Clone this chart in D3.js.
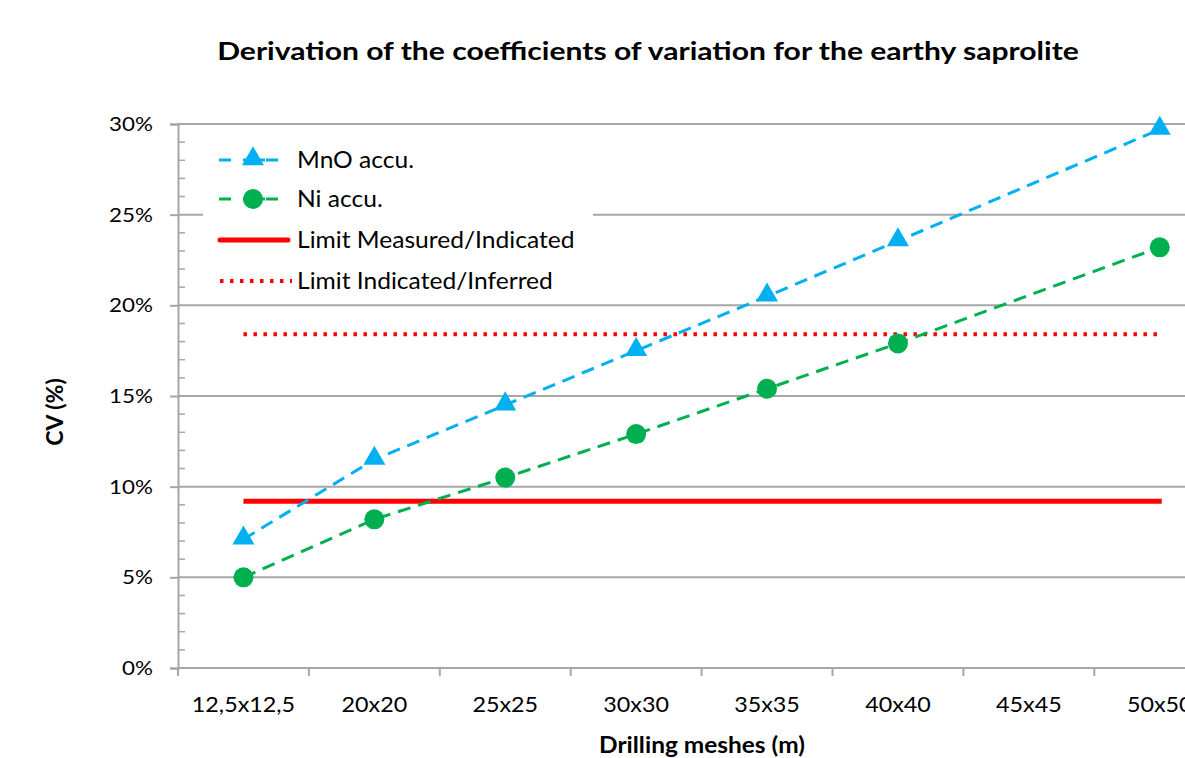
<!DOCTYPE html>
<html>
<head>
<meta charset="utf-8">
<script src="https://cdn.jsdelivr.net/npm/d3@7"></script>
<style>
  html, body { margin: 0; padding: 0; background: #fff; }
  svg { display: block; font-family: Lato, "Open Sans", sans-serif; }
</style>
</head>
<body>
<svg id="chart" width="1185" height="758"></svg>
<script>
// Drilling mesh categories and accumulated CV values (%)
const meshes = ["12,5x12,5", "20x20", "25x25", "30x30", "35x35", "40x40", "45x45", "50x50"];
const mnoCV = [7.1, 11.5, 14.5, 17.5, 20.5, 23.55, null, 29.7];
const niCV  = [5.0, 8.2, 10.5, 12.9, 15.4, 17.9, null, 23.2];
const limitMeasured = 9.2;
const limitIndicated = 18.4;
const yTicks = [0, 5, 10, 15, 20, 25, 30];

const svg = d3.select("#chart");
const plotLeft = 178, plotTop = 124, plotBottom = 668, bandW = 130.9;

const x = d3.scaleBand().domain(meshes).range([plotLeft, plotLeft + bandW * meshes.length]).paddingInner(0).paddingOuter(0);
const y = d3.scaleLinear().domain([0, 30]).range([plotBottom, plotTop]);
const cx = d => x(d) + x.bandwidth() / 2;

const gridColor = "#a6a6a6";

// Text placed at (px, py) and widened horizontally by factor k
function label(parent, px, py, txt, size, k, anchor, bold) {
  return parent.append("text")
    .attr("transform", `translate(${px},${py}) scale(${k},1)`)
    .attr("text-anchor", anchor || "start")
    .attr("font-size", size)
    .attr("font-weight", bold ? "bold" : "normal")
    .attr("fill", "#000")
    .text(txt);
}

// Horizontal gridlines
svg.append("g").selectAll("line").data(yTicks.slice(1)).join("line")
  .attr("x1", plotLeft).attr("x2", 1185)
  .attr("y1", d => y(d)).attr("y2", d => y(d))
  .attr("stroke", gridColor).attr("stroke-width", 2);

// Y axis: major ticks outside, minor ticks inside
const yAxis = svg.append("g").attr("transform", `translate(${plotLeft},0)`)
  .call(d3.axisLeft(y).tickValues(yTicks).tickSize(8).tickFormat(d => d + "%"));
yAxis.select(".domain").attr("stroke", gridColor).attr("stroke-width", 2);
yAxis.selectAll(".tick line").attr("stroke", gridColor).attr("stroke-width", 2);
yAxis.selectAll(".tick text")
  .attr("x", null)
  .attr("transform", "translate(-25,0) scale(1.12,1)")
  .attr("font-size", 20).attr("fill", "#000").attr("font-family", "Lato, sans-serif");

const minor = d3.range(0, 31, 1).filter(v => v % 5 !== 0);
svg.append("g").selectAll("line").data(minor).join("line")
  .attr("x1", plotLeft).attr("x2", plotLeft + 7)
  .attr("y1", d => y(d)).attr("y2", d => y(d))
  .attr("stroke", gridColor).attr("stroke-width", 1.5);

// X axis with ticks on band boundaries
const xg = svg.append("g");
xg.append("line").attr("x1", plotLeft).attr("x2", 1185).attr("y1", plotBottom).attr("y2", plotBottom)
  .attr("stroke", gridColor).attr("stroke-width", 2);
xg.selectAll("line.tk").data(meshes).join("line").attr("class", "tk")
  .attr("x1", d => x(d)).attr("x2", d => x(d))
  .attr("y1", plotBottom).attr("y2", plotBottom + 8)
  .attr("stroke", gridColor).attr("stroke-width", 2);
meshes.forEach(m => label(xg, cx(m), 712, m, 21, 1.11, "middle"));

// Legend background box
svg.append("rect").attr("x", 203).attr("y", 140).attr("width", 390).attr("height", 160).attr("fill", "#fff");

// Limit lines
svg.append("line")
  .attr("x1", cx(meshes[0])).attr("x2", cx(meshes[meshes.length - 1]) + 2)
  .attr("y1", y(limitMeasured)).attr("y2", y(limitMeasured))
  .attr("stroke", "#ff0000").attr("stroke-width", 5);
svg.append("line")
  .attr("x1", cx(meshes[0])).attr("x2", cx(meshes[meshes.length - 1]))
  .attr("y1", y(limitIndicated)).attr("y2", y(limitIndicated))
  .attr("stroke", "#ff0000").attr("stroke-width", 4)
  .attr("stroke-dasharray", "3.5 6.5");

// Series lines (gaps bridged over missing values)
const line = d3.line().x(d => cx(d.k)).y(d => y(d.v));
function series(vals, color) {
  const pts = meshes.map((k, i) => ({ k, v: vals[i] })).filter(d => d.v != null);
  svg.append("path").datum(pts).attr("d", line)
    .attr("fill", "none").attr("stroke", color).attr("stroke-width", 3)
    .attr("stroke-dasharray", "13 8");
  return pts;
}
const blue = "#00b0f0", green = "#00b050";
const mnoPts = series(mnoCV, blue);
const niPts = series(niCV, green);

const tri = d3.symbol().type(d3.symbolTriangle).size(210);
svg.append("g").selectAll("path").data(mnoPts).join("path")
  .attr("d", tri).attr("fill", blue)
  .attr("transform", d => `translate(${cx(d.k)},${y(d.v) - 1})`);
svg.append("g").selectAll("circle").data(niPts).join("circle")
  .attr("cx", d => cx(d.k)).attr("cy", d => y(d.v)).attr("r", 10).attr("fill", green);

// Legend entries
const lg = svg.append("g");
const rows = [
  { label: "MnO accu.", y: 160 },
  { label: "Ni accu.", y: 199 },
  { label: "Limit Measured/Indicated", y: 240 },
  { label: "Limit Indicated/Inferred", y: 281 }
];
[[blue, 0], [green, 1]].forEach(([c, i]) => {
  [[219, 231], [243, 265], [266, 278]].forEach(([a, b]) => {
    lg.append("line").attr("x1", a).attr("x2", b).attr("y1", rows[i].y).attr("y2", rows[i].y)
      .attr("stroke", c).attr("stroke-width", 3);
  });
});
lg.append("path").attr("d", tri).attr("fill", blue).attr("transform", `translate(253,${rows[0].y - 1})`);
lg.append("circle").attr("cx", 253).attr("cy", rows[1].y).attr("r", 10).attr("fill", green);
lg.append("line").attr("x1", 220).attr("x2", 288).attr("y1", rows[2].y).attr("y2", rows[2].y)
  .attr("stroke", "#ff0000").attr("stroke-width", 5).attr("stroke-linecap", "round");
lg.append("line").attr("x1", 220).attr("x2", 292).attr("y1", rows[3].y).attr("y2", rows[3].y)
  .attr("stroke", "#ff0000").attr("stroke-width", 4).attr("stroke-dasharray", "3.5 6.5");
rows.forEach(r => label(lg, 297, r.y + 8, r.label, 23, 1.07, "start"));

// Titles
label(svg, 648, 60, "Derivation of the coefficients of variation for the earthy saprolite", 25.5, 1.18, "middle", true);
label(svg, 702, 753, "Drilling meshes (m)", 23.5, 1.04, "middle", true);
svg.append("text").attr("transform", "translate(63,412) rotate(-90)").attr("text-anchor", "middle")
  .attr("font-size", 23).attr("font-weight", "bold").text("CV (%)");
</script>
</body>
</html>
